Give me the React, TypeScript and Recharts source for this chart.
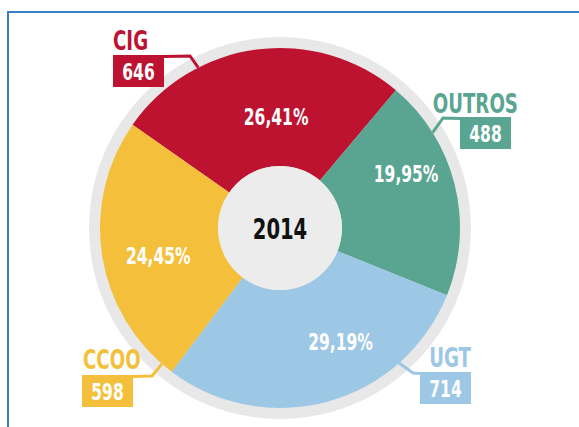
import { PieChart, Pie, Cell } from "recharts";

const unions = ["CIG", "OUTROS", "UGT", "CCOO"];
const delegates = [646, 488, 714, 598];
const colors = ["#bd1230", "#5aa592", "#9cc7e5", "#f4c03b"];
const year = "2014";

const FONT = '"Liberation Sans Narrow", "DejaVu Sans Condensed", "Arial Narrow", sans-serif';
const RING = "#e8e8e8";
const CENTER = "#ececec";
const SQUEEZE = 0.75; // the original face is a narrow DIN-like type

// where each label sits, angles clockwise from 12 o'clock (degrees)
const pctPos = [
  { a: -2, r: 111 },
  { a: 67, r: 137 },
  { a: 152, r: 129 },
  { a: 257, r: 125 },
];

// callout geometry relative to the pie centre
const callouts = [
  { a: -27, elbow: [-90, -172], box: [-167, -173], title: [-167, -178], anchor: "start" },
  { a: 58, elbow: [163, -110], box: [180, -111], title: [238, -115], anchor: "end" },
  { a: 138.6, elbow: [133, 145], box: [140, 144], title: [191, 139], anchor: "end" },
  { a: 221, elbow: [-128, 148], box: [-198, 147], title: [-197, 141], anchor: "start" },
];

const BOX_W = 51;
const BOX_H = 32;

const data = unions.map((name, i) => ({ name, value: delegates[i], color: colors[i] }));

function polar(cx: number, cy: number, r: number, deg: number) {
  const rad = (deg * Math.PI) / 180;
  return [cx + r * Math.sin(rad), cy - r * Math.cos(rad)];
}

function Narrow({
  x,
  y,
  size,
  fill,
  anchor = "middle",
  central = false,
  children,
}: {
  x: number;
  y: number;
  size: number;
  fill: string;
  anchor?: string;
  central?: boolean;
  children: any;
}) {
  return (
    <text
      transform={`translate(${x},${y}) scale(${SQUEEZE},1)`}
      fill={fill}
      textAnchor={anchor as any}
      dominantBaseline={central ? "central" : undefined}
      fontFamily={FONT}
      fontWeight="bold"
      fontSize={size}
    >
      {children}
    </text>
  );
}

function renderLabel(props: any) {
  const { cx, cy, outerRadius, percent, index } = props;
  const color = colors[index];
  const p = pctPos[index];
  const [px, py] = polar(cx, cy, p.r, p.a);
  const c = callouts[index];
  const [sx, sy] = polar(cx, cy, outerRadius, c.a);
  const ex = cx + c.elbow[0];
  const ey = cy + c.elbow[1];
  const bx = cx + c.box[0];
  const by = cy + c.box[1];
  const edgeX = c.box[0] < 0 ? bx + BOX_W : bx;
  const pct = (percent * 100).toFixed(2).replace(".", ",") + "%";
  return (
    <g>
      <Narrow x={px} y={py} size={23} fill="#fff" central>
        {pct}
      </Narrow>
      <polyline
        points={`${sx},${sy} ${ex},${ey} ${edgeX},${by + 1.5}`}
        fill="none"
        stroke={color}
        strokeWidth={3}
      />
      <rect x={bx} y={by} width={BOX_W} height={BOX_H} fill={color} />
      <Narrow x={bx + BOX_W / 2} y={by + BOX_H / 2 + 1} size={23} fill="#fff" central>
        {delegates[index]}
      </Narrow>
      <Narrow x={cx + c.title[0]} y={cy + c.title[1]} size={27} fill={color} anchor={c.anchor}>
        {unions[index]}
      </Narrow>
    </g>
  );
}

function renderYear(props: any) {
  const { cx, cy } = props;
  return (
    <Narrow x={cx} y={cy + 1} size={29} fill="#111" central>
      {year}
    </Narrow>
  );
}

export default function App() {
  return (
    <div
      style={{
        position: "fixed",
        left: 0,
        top: 0,
        width: 579,
        height: 427,
        overflow: "hidden",
        background: "#fff",
      }}
    >
      <div
        style={{
          position: "absolute",
          left: 7,
          top: 11,
          width: 700,
          height: 700,
          borderLeft: "2px solid #3a7fc1",
          borderTop: "2px solid #3a7fc1",
        }}
      />
      <div style={{ position: "absolute", left: 0, top: 0 }}>
        <PieChart width={579} height={427} margin={{ top: 0, right: 0, bottom: 0, left: 0 }}>
          <Pie
            data={[{ name: "ring", value: 1 }]}
            dataKey="value"
            cx={280}
            cy={228}
            innerRadius={0}
            outerRadius={191}
            fill={RING}
            stroke="none"
            isAnimationActive={false}
          />
          <Pie
            data={data}
            dataKey="value"
            nameKey="name"
            cx={280}
            cy={228}
            innerRadius={62}
            outerRadius={180}
            startAngle={145}
            endAngle={-215}
            stroke="none"
            label={renderLabel}
            labelLine={false}
            isAnimationActive={false}
          >
            {data.map((d, i) => (
              <Cell key={i} fill={d.color} />
            ))}
          </Pie>
          <Pie
            data={[{ name: "year", value: 1 }]}
            dataKey="value"
            cx={280}
            cy={228}
            innerRadius={0}
            outerRadius={62}
            fill={CENTER}
            stroke="none"
            label={renderYear}
            labelLine={false}
            isAnimationActive={false}
          />
        </PieChart>
      </div>
    </div>
  );
}
